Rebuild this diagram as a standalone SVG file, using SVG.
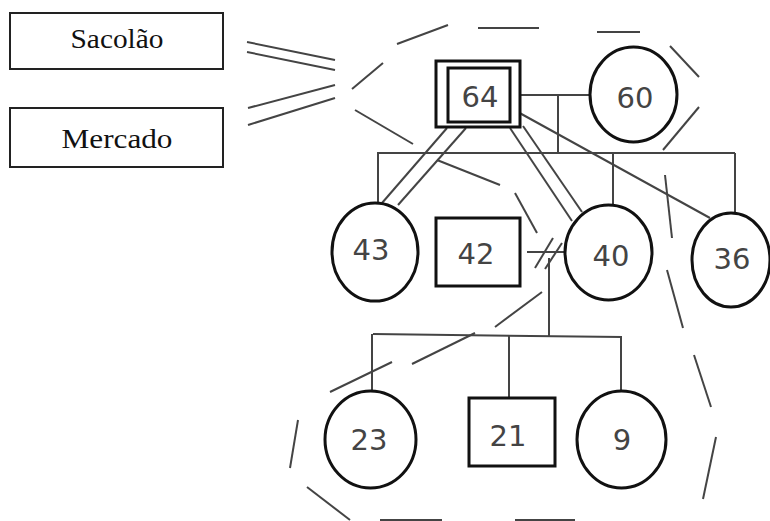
<svg xmlns="http://www.w3.org/2000/svg" width="770" height="521" viewBox="0 0 770 521">
  <style>
    .box { fill: #fff; stroke: #222; stroke-width: 2; }
    .node { fill: #fff; stroke: #111; stroke-width: 3; }
    .label { font-family: "Liberation Serif", "Times New Roman", serif; font-size: 28px; fill: #111; text-anchor: middle; }
    .age { font-family: "DejaVu Sans", Verdana, sans-serif; font-size: 29px; fill: #444; text-anchor: middle; }
    .link { stroke: #444; stroke-width: 2; fill: none; }
    .boundary { stroke: #444; stroke-width: 2; fill: none; }
  </style>
  <rect width="770" height="521" fill="#fff"/>

  <!-- external resources -->
  <g id="sacolao">
    <rect class="box" x="10" y="13" width="213" height="56"/>
    <text class="label" x="117" y="48" textLength="93" lengthAdjust="spacingAndGlyphs">Sacolão</text>
  </g>
  <g id="mercado">
    <rect class="box" x="10" y="108" width="213" height="59"/>
    <text class="label" x="117" y="148" textLength="111" lengthAdjust="spacingAndGlyphs">Mercado</text>
  </g>

  <!-- household boundary (dashed outline) -->
  <g id="boundary" class="boundary">
    <line x1="397" y1="44" x2="448" y2="25"/>
    <line x1="478" y1="28" x2="539" y2="28"/>
    <line x1="597" y1="32" x2="640" y2="32"/>
    <line x1="670" y1="46" x2="699" y2="77"/>
    <line x1="699" y1="107" x2="663" y2="150"/>
    <line x1="352" y1="89" x2="383" y2="63"/>
    <line x1="355" y1="110" x2="413" y2="144"/>
    <line x1="437" y1="160" x2="500" y2="185"/>
    <line x1="515" y1="193" x2="537" y2="233"/>
    <line x1="542" y1="292" x2="495" y2="327"/>
    <line x1="475" y1="333" x2="412" y2="364"/>
    <line x1="392" y1="362" x2="330" y2="392"/>
    <line x1="298" y1="420" x2="290" y2="468"/>
    <line x1="307" y1="487" x2="350" y2="520"/>
    <line x1="380" y1="520" x2="442" y2="520"/>
    <line x1="515" y1="520" x2="575" y2="520"/>
    <line x1="665" y1="175" x2="672" y2="238"/>
    <line x1="667" y1="270" x2="683" y2="328"/>
    <line x1="694" y1="355" x2="711" y2="407"/>
    <line x1="716" y1="437" x2="703" y2="499"/>
  </g>

  <!-- connectors -->
  <g id="connectors" class="link">
    <!-- resource ties -->
    <line x1="247" y1="42" x2="335" y2="60"/>
    <line x1="247" y1="52" x2="335" y2="70"/>
    <line x1="248" y1="108" x2="335" y2="85"/>
    <line x1="248" y1="125" x2="335" y2="98"/>
    <!-- marriage 64 - 60 and descent -->
    <line x1="520" y1="95" x2="590" y2="95"/>
    <line x1="558" y1="95" x2="558" y2="153"/>
    <line x1="377" y1="153" x2="735" y2="153"/>
    <line x1="378" y1="153" x2="378" y2="203"/>
    <line x1="613" y1="153" x2="613" y2="205"/>
    <line x1="735" y1="153" x2="735" y2="213"/>
    <!-- close ties from 64 -->
    <line x1="447" y1="128" x2="382" y2="203"/>
    <line x1="466" y1="128" x2="398" y2="205"/>
    <line x1="510" y1="128" x2="572" y2="221"/>
    <line x1="523" y1="126" x2="582" y2="212"/>
    <line x1="516" y1="111" x2="710" y2="218"/>
    <!-- separated union 42 - 40 -->
    <line x1="527" y1="252" x2="566" y2="252"/>
    <line x1="535" y1="268" x2="553" y2="238"/>
    <line x1="545" y1="269" x2="562" y2="243"/>
    <line x1="549" y1="258" x2="549" y2="336"/>
    <line x1="373" y1="334" x2="622" y2="337"/>
    <line x1="372" y1="334" x2="372" y2="391"/>
    <line x1="509" y1="336" x2="509" y2="398"/>
    <line x1="621" y1="337" x2="621" y2="391"/>
  </g>

  <!-- family members -->
  <g id="p64">
    <rect class="node" x="436" y="61" width="84" height="66"/>
    <rect class="node" x="448" y="68" width="62" height="54"/>
    <text class="age" x="480" y="107">64</text>
  </g>
  <g id="p60">
    <ellipse class="node" cx="633.5" cy="94.5" rx="43.5" ry="47.5"/>
    <text class="age" x="635" y="108">60</text>
  </g>
  <g id="p43">
    <ellipse class="node" cx="375" cy="252" rx="43" ry="49"/>
    <text class="age" x="371" y="260">43</text>
  </g>
  <g id="p42">
    <rect class="node" x="436" y="218" width="84" height="68"/>
    <text class="age" x="476" y="264">42</text>
  </g>
  <g id="p40">
    <ellipse class="node" cx="608.5" cy="252.5" rx="43.5" ry="47.5"/>
    <text class="age" x="611" y="266">40</text>
  </g>
  <g id="p36">
    <ellipse class="node" cx="731" cy="260" rx="39" ry="47"/>
    <text class="age" x="732" y="269">36</text>
  </g>
  <g id="p23">
    <ellipse class="node" cx="370.5" cy="439.5" rx="45.5" ry="48.5"/>
    <text class="age" x="369" y="450">23</text>
  </g>
  <g id="p21">
    <rect class="node" x="469" y="398" width="86" height="68"/>
    <text class="age" x="508" y="446">21</text>
  </g>
  <g id="p9">
    <ellipse class="node" cx="621.5" cy="439.5" rx="44.5" ry="48.5"/>
    <text class="age" x="622" y="450">9</text>
  </g>
</svg>
